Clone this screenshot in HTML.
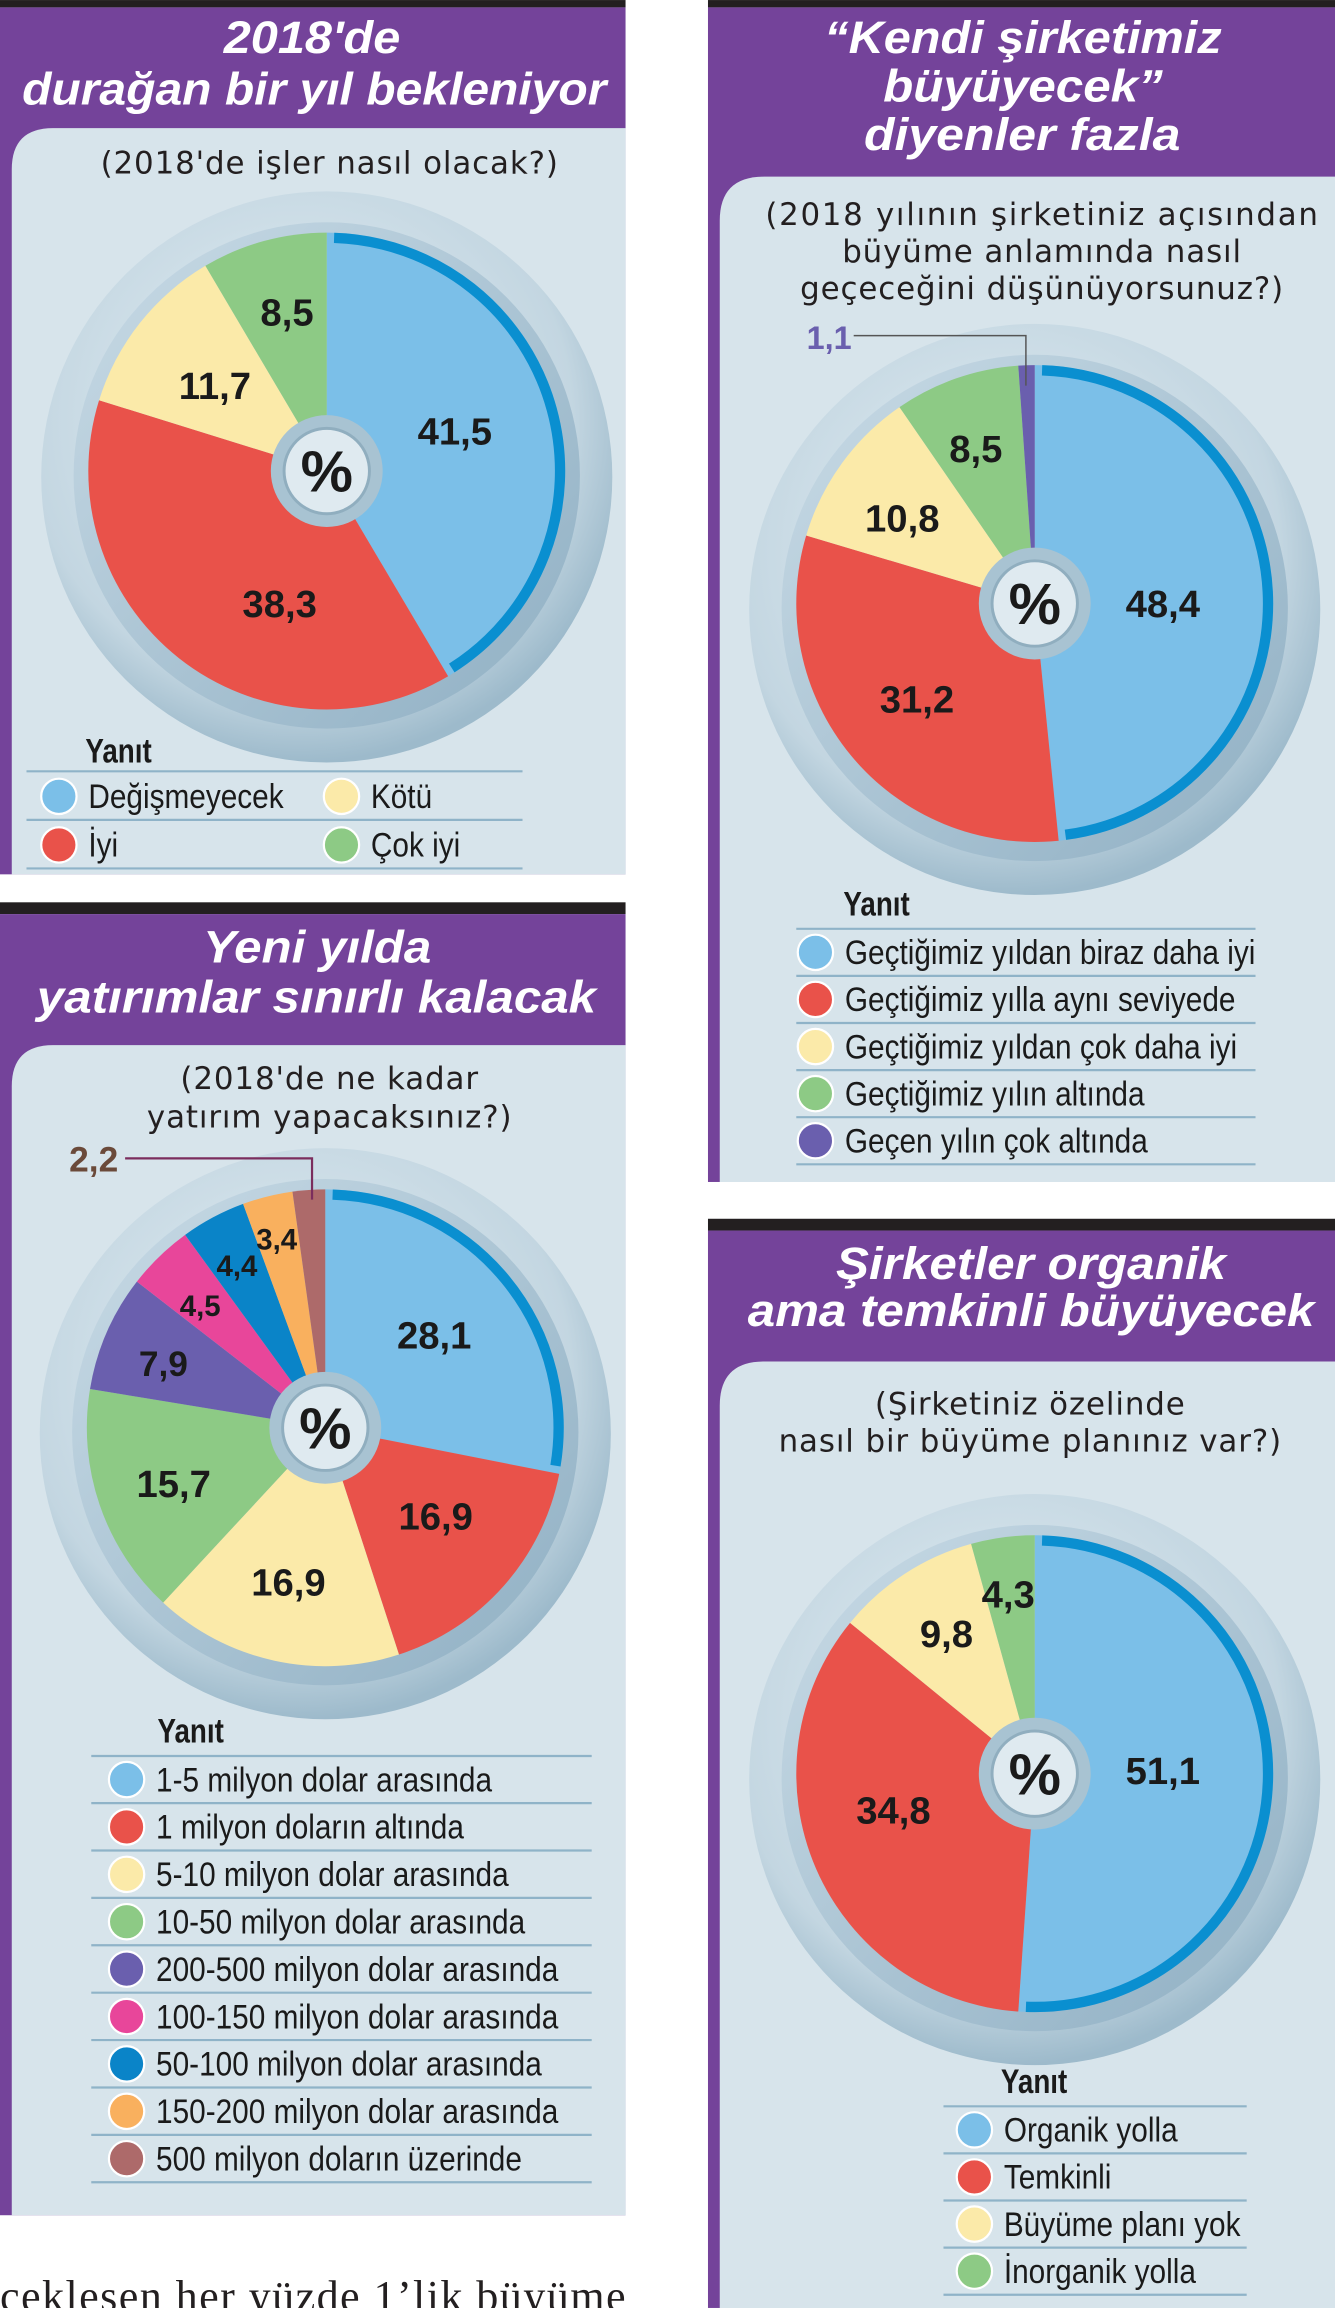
<!DOCTYPE html>
<html><head><meta charset="utf-8">
<style>
html,body{margin:0;padding:0;background:#fff;}
svg{display:block;}
.t{font-family:"Liberation Sans",sans-serif;font-weight:bold;font-style:italic;fill:#fff;}
.q{font-family:"DejaVu Sans","Liberation Sans",sans-serif;fill:#231f20;text-anchor:middle;letter-spacing:0.6px;}
.v{font-family:"Liberation Sans",sans-serif;font-weight:bold;fill:#1a1a1a;text-anchor:middle;}
.lg{font-family:"Liberation Sans",sans-serif;fill:#1a1a1a;font-size:23px;}
.yh{font-family:"Liberation Sans",sans-serif;font-weight:bold;fill:#1a1a1a;font-size:23px;}
</style></head><body>
<svg id="s" width="1335" height="2308" viewBox="0 0 907 1568" xmlns="http://www.w3.org/2000/svg">
<defs>
<radialGradient id="ring" cx="0.45" cy="0.4" r="0.6">
<stop offset="0" stop-color="#e6f0f5"/><stop offset="0.8" stop-color="#c3d6e1"/><stop offset="1" stop-color="#9dbacb"/></radialGradient>
<linearGradient id="ring2" x1="0" y1="0" x2="1" y2="1">
<stop offset="0" stop-color="#c9dbe6"/><stop offset="1" stop-color="#8fafc3"/></linearGradient>
</defs>
<rect x="0" y="0" width="425" height="5" fill="#231f20"/>
<rect x="0" y="5" width="425" height="589" fill="#74439a"/>
<path d="M8 594 V115 Q8 87 36 87 H425 V594 Z" fill="#d7e4eb"/>
<text class="t" x="152" y="36" font-size="31" textLength="120" lengthAdjust="spacingAndGlyphs">2018'de</text>
<text class="t" x="15" y="71" font-size="31" textLength="397" lengthAdjust="spacingAndGlyphs">durağan bir yıl bekleniyor</text>
<text class="q" x="224" y="118" font-size="21">(2018'de işler nasıl olacak?)</text>
<rect x="0" y="613" width="425" height="8" fill="#231f20"/>
<rect x="0" y="621" width="425" height="884" fill="#74439a"/>
<path d="M8 1505 V738 Q8 710 36 710 H425 V1505 Z" fill="#d7e4eb"/>
<text class="t" x="138" y="654" font-size="31" textLength="155" lengthAdjust="spacingAndGlyphs">Yeni yılda</text>
<text class="t" x="25" y="688" font-size="31" textLength="380" lengthAdjust="spacingAndGlyphs">yatırımlar sınırlı kalacak</text>
<text class="q" x="224" y="740" font-size="21">(2018'de ne kadar</text>
<text class="q" x="224" y="766" font-size="21">yatırım yapacaksınız?)</text>
<rect x="481" y="0" width="426" height="5" fill="#231f20"/>
<rect x="481" y="5" width="426" height="798" fill="#74439a"/>
<path d="M489 803 V150 Q489 120 519 120 H907 V803 Z" fill="#d7e4eb"/>
<text class="t" x="560" y="36" font-size="31" textLength="270" lengthAdjust="spacingAndGlyphs">“Kendi şirketimiz</text>
<text class="t" x="600" y="69" font-size="31" textLength="190" lengthAdjust="spacingAndGlyphs">büyüyecek”</text>
<text class="t" x="587" y="102" font-size="31" textLength="215" lengthAdjust="spacingAndGlyphs">diyenler fazla</text>
<text class="q" x="708" y="153" font-size="21" textLength="376">(2018 yılının şirketiniz açısından</text>
<text class="q" x="708" y="178" font-size="21">büyüme anlamında nasıl</text>
<text class="q" x="708" y="203" font-size="21">geçeceğini düşünüyorsunuz?)</text>
<rect x="481" y="828" width="426" height="8" fill="#231f20"/>
<rect x="481" y="836" width="426" height="732" fill="#74439a"/>
<path d="M489 1568 V955 Q489 925 519 925 H907 V1568 Z" fill="#d7e4eb"/>
<text class="t" x="568" y="869" font-size="31" textLength="265" lengthAdjust="spacingAndGlyphs">Şirketler organik</text>
<text class="t" x="508" y="901" font-size="31" textLength="385" lengthAdjust="spacingAndGlyphs">ama temkinli büyüyecek</text>
<text class="q" x="700" y="961" font-size="21">(Şirketiniz özelinde</text>
<text class="q" x="700" y="986" font-size="21">nasıl bir büyüme planınız var?)</text>
<text x="0" y="1570" font-family="Liberation Serif,serif" font-size="30" fill="#231f20" textLength="425">ceklesen her yüzde 1’lik büyüme</text>
<g id="pies"></g>
<polyline points="85,787 212,787 212,815" fill="none" stroke="#7b2d5d" stroke-width="1.5"/>
<text x="47" y="796" font-family="Liberation Sans,sans-serif" font-weight="bold" font-size="24" fill="#6b4a3a">2,2</text>
<polyline points="580,228 697,228 697,262" fill="none" stroke="#555" stroke-width="1"/>
<text x="548" y="237" font-family="Liberation Sans,sans-serif" font-weight="bold" font-size="22" fill="#6a5fae">1,1</text>
<g id="leg"></g>
</svg>
<script>
var NS="http://www.w3.org/2000/svg";
var C={b:"#7bbfe8",r:"#e9524a",y:"#fbeaa9",g:"#8dca85",p:"#6a5fae",k:"#e8469a",d:"#0a84c8",o:"#f9b05e",n:"#ad6a6a"};
function el(t,a,p){var e=document.createElementNS(NS,t);for(var k in a)e.setAttribute(k,a[k]);(p||document.getElementById('pies')).appendChild(e);return e;}
function pt(cx,cy,r,f){var a=f*2*Math.PI;return [cx+r*Math.sin(a),cy-r*Math.cos(a)];}
function pie(cx,cy,sl,labels){
 el('circle',{cx:cx,cy:cy+4,r:194,fill:'url(#ring)'});
 el('circle',{cx:cx,cy:cy+3,r:172,fill:'url(#ring2)'});
 var R=162,s=0;
 sl.forEach(function(q){var v=q[0]/100,e=s+v,a=pt(cx,cy,R,s),b=pt(cx,cy,R,e);
  el('path',{d:'M'+cx+' '+cy+' L'+a[0]+' '+a[1]+' A'+R+' '+R+' 0 '+(v>0.5?1:0)+' 1 '+b[0]+' '+b[1]+' Z',fill:C[q[1]]});
  if(q[1]=='b'){var R2=R-3.5,a2=pt(cx,cy,R2,s+0.005),b2=pt(cx,cy,R2,e-0.005);
   el('path',{d:'M'+a2[0]+' '+a2[1]+' A'+R2+' '+R2+' 0 '+(v>0.5?1:0)+' 1 '+b2[0]+' '+b2[1],fill:'none',stroke:'#0a8fd0','stroke-width':7});}
  s=e;});
 el('circle',{cx:cx,cy:cy,r:38,fill:'#a8c3d2'});
 el('circle',{cx:cx,cy:cy,r:29,fill:'#dfeaf0',stroke:'#90aebf','stroke-width':2});
 var t=el('text',{x:cx,y:cy+14,'class':'v','font-size':40});t.textContent='%';
 labels.forEach(function(l){var t=el('text',{x:l[1],y:l[2]+9,'class':'v','font-size':l[3]||26});t.textContent=l[0];});
}
pie(222,320,[[41.5,'b'],[38.3,'r'],[11.7,'y'],[8.5,'g']],[['8,5',195,212],['11,7',146,262],['41,5',309,293],['38,3',190,410]]);
pie(221,970,[[28.1,'b'],[16.9,'r'],[16.9,'y'],[15.7,'g'],[7.9,'p'],[4.5,'k'],[4.4,'d'],[3.4,'o'],[2.2,'n']],
 [['28,1',295,907],['16,9',296,1030],['16,9',196,1075],['15,7',118,1008],['7,9',111,926,24],['4,5',136,885,20],['4,4',161,858,20],['3,4',188,840,20]]);
pie(703,410,[[48.4,'b'],[31.2,'r'],[10.8,'y'],[8.5,'g'],[1.1,'p']],[['8,5',663,305],['10,8',613,352],['48,4',790,410],['31,2',623,475]]);
pie(703,1205,[[51.1,'b'],[34.8,'r'],[9.8,'y'],[4.3,'g']],[['4,3',685,1083],['9,8',643,1110],['51,1',790,1203],['34,8',607,1230]]);
var L=document.getElementById('leg');
function line(x1,x2,y){el('line',{x1:x1,x2:x2,y1:y,y2:y,stroke:'#8fb3c8','stroke-width':1.5},L);}
function squeeze(t,f){try{var w=t.getComputedTextLength();t.setAttribute('textLength',(w*f).toFixed(1));t.setAttribute('lengthAdjust','spacingAndGlyphs');}catch(e){}}
function item(x,y,c,txt){el('circle',{cx:x,cy:y,r:12,fill:C[c],stroke:'#fff','stroke-width':1.5},L);var t=el('text',{x:x+20,y:y+8,'class':'lg'},L);t.textContent=txt;squeeze(t,0.88);}
function hdr(x,y){var t=el('text',{x:x,y:y,'class':'yh'},L);t.textContent='Yanıt';squeeze(t,0.82);}
hdr(58,518);line(18,355,524);line(18,355,557);line(18,355,590);
item(40,541,'b','Değişmeyecek');item(232,541,'y','Kötü');item(40,574,'r','İyi');item(232,574,'g','Çok iyi');
hdr(107,1184);
var l2=[['b','1-5 milyon dolar arasında'],['r','1 milyon doların altında'],['y','5-10 milyon dolar arasında'],['g','10-50 milyon dolar arasında'],['p','200-500 milyon dolar arasında'],['k','100-150 milyon dolar arasında'],['d','50-100 milyon dolar arasında'],['o','150-200 milyon dolar arasında'],['n','500 milyon doların üzerinde']];
line(62,402,1193);l2.forEach(function(r,i){var y=1209+i*32.2;item(86,y,r[0],r[1]);line(62,402,y+16);});
hdr(573,622);
var l3=[['b','Geçtiğimiz yıldan biraz daha iyi'],['r','Geçtiğimiz yılla aynı seviyede'],['y','Geçtiğimiz yıldan çok daha iyi'],['g','Geçtiğimiz yılın altında'],['p','Geçen yılın çok altında']];
line(541,853,631);l3.forEach(function(r,i){var y=647+i*32;item(554,y,r[0],r[1]);line(541,853,y+16);});
hdr(680,1422);
var l4=[['b','Organik yolla'],['r','Temkinli'],['y','Büyüme planı yok'],['g','İnorganik yolla']];
line(641,847,1431);l4.forEach(function(r,i){var y=1447+i*32;item(662,y,r[0],r[1]);line(641,847,y+16);});
</script>
</body></html>
